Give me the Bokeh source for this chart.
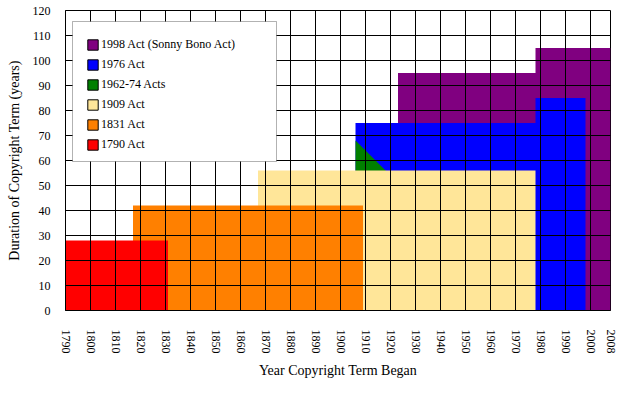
import math
from bokeh.plotting import figure
from bokeh.models import Range1d, FixedTicker, Legend, LegendItem, BoxAnnotation
from bokeh.embed import file_html
from bokeh.resources import INLINE

# ---- data ----
x_ticks = [1790, 1800, 1810, 1820, 1830, 1840, 1850, 1860, 1870, 1880, 1890,
           1900, 1910, 1920, 1930, 1940, 1950, 1960, 1970, 1980, 1990, 2000, 2008]
y_ticks = [0, 10, 20, 30, 40, 50, 60, 70, 80, 90, 100, 110, 120]

act1998_year = [1923, 1923, 1978, 1978, 2008]
act1998_term = [0, 95, 95, 105, 105]

act1976_year = [1906, 1906, 1978, 1978, 1998, 1998]
act1976_term = [0, 75, 75, 85, 85, 0]

acts1962_74_year = [1906, 1906, 1918, 1918]
acts1962_74_term = [0, 68, 56, 0]

act1909_year = [1867, 1867, 1978, 1978]
act1909_term = [0, 56, 56, 0]

act1831_year = [1817, 1817, 1909, 1909]
act1831_term = [0, 42, 42, 0]

act1790_year = [1790, 1831, 1831]
act1790_term = [28, 28, 0]

series_labels = ["1998 Act (Sonny Bono Act)", "1976 Act", "1962-74 Acts",
                 "1909 Act", "1831 Act", "1790 Act"]
series_colors = ["#800080", "#0000FF", "#008000", "#FFE699", "#FF8000", "#FF0000"]
series_years = [act1998_year, act1976_year, acts1962_74_year,
                act1909_year, act1831_year, act1790_year]
series_terms = [act1998_term, act1976_term, acts1962_74_term,
                act1909_term, act1831_term, act1790_term]

FONT = "Liberation Serif"

p = figure(width=630, height=398, output_backend="svg", toolbar_location=None,
           x_range=Range1d(1790, 2008), y_range=Range1d(0, 120),
           min_border_left=65, min_border_right=20, min_border_top=10,
           min_border_bottom=88)
p.background_fill_color = "white"
p.border_fill_color = "white"
p.outline_line_color = "black"
p.outline_line_width = 1

legend_items = []
for lab, col, xs, ys in zip(series_labels, series_colors, series_years, series_terms):
    p.varea(x=xs, y1=[0] * len(xs), y2=ys, fill_color=col, fill_alpha=1.0)
    dummy = p.quad(left=[math.nan], right=[math.nan], top=[math.nan], bottom=[math.nan],
                   fill_color=col, line_color="black", line_width=1)
    legend_items.append(LegendItem(label=lab, renderers=[dummy]))

# axes
xt = FixedTicker(ticks=x_ticks)
yt = FixedTicker(ticks=y_ticks)
p.xaxis.ticker = xt
p.yaxis.ticker = yt
p.xgrid.ticker = xt
p.ygrid.ticker = yt

for g in (p.xgrid, p.ygrid):
    g.grid_line_color = "black"
    g.grid_line_width = 1
    g.grid_line_alpha = 1.0
    g.level = "guide"

for ax in (p.xaxis, p.yaxis):
    ax.axis_line_color = "black"
    ax.axis_line_width = 1
    ax.major_tick_out = 0
    ax.major_tick_in = 0
    ax.minor_tick_line_color = None
    ax.major_label_text_font = FONT
    ax.major_label_text_font_size = "12px"
    ax.major_label_text_color = "black"
    ax.axis_label_text_font = FONT
    ax.axis_label_text_font_size = "14px"
    ax.axis_label_text_font_style = "normal"
    ax.axis_label_text_color = "black"

p.xaxis.major_label_orientation = "vertical"
p.xaxis.major_label_standoff = 19
p.xaxis.axis_label = "Year Copyright Term Began"
p.xaxis.axis_label_standoff = 6

p.yaxis.major_label_standoff = 15
p.yaxis.axis_label = "Duration of Copyright Term (years)"
p.yaxis.axis_label_standoff = 8

# legend frame
legend_box = BoxAnnotation(left=72, right=276, top=21, bottom=161,
                           left_units="canvas", right_units="canvas",
                           top_units="canvas", bottom_units="canvas",
                           fill_color="white", fill_alpha=1.0,
                           line_color="black", line_width=1, level="annotation")
p.add_layout(legend_box)

legend = Legend(items=legend_items, location=(21, 156))
legend.border_line_color = None
legend.background_fill_alpha = 0.0
legend.label_text_font = FONT
legend.label_text_font_size = "12px"
legend.label_text_color = "black"
legend.padding = 11
legend.spacing = 0
legend.margin = 0
legend.label_height = 20
legend.glyph_height = 13
legend.glyph_width = 13
legend.label_standoff = 2
p.add_layout(legend, "center")

open("out.html", "w").write(file_html(p, INLINE))
